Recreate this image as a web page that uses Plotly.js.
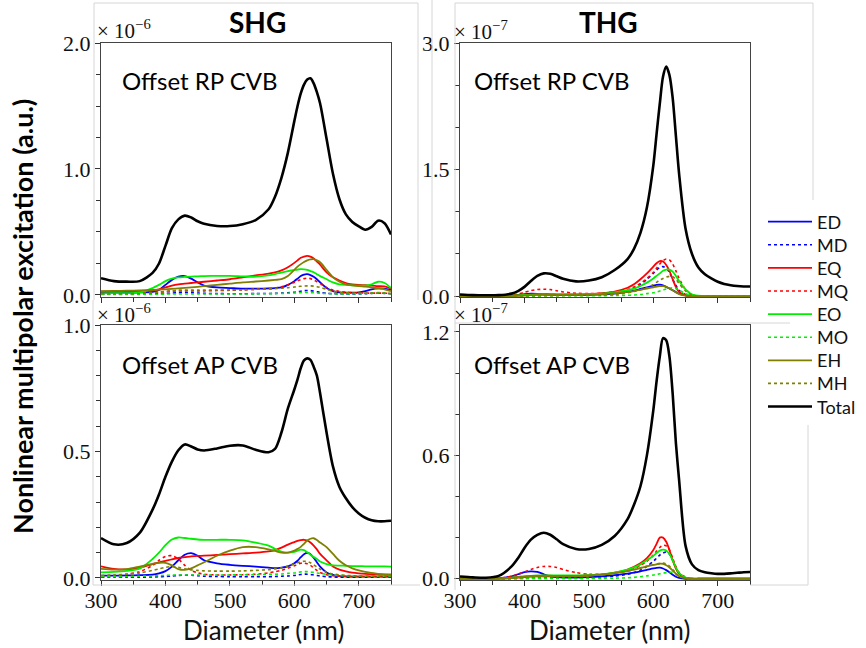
<!DOCTYPE html>
<html><head><meta charset="utf-8">
<script src="https://cdn.plot.ly/plotly-3.0.1.min.js"></script>
<style>html,body{margin:0;padding:0;background:#fff}#chart{width:866px;height:648px}</style>
</head><body><div id="chart"></div>
<script>
// Diameter grid (nm)
const diameter = [300,320,340,360,380,390,400,410,420,430,440,450,460,480,500,520,540,560,570,580,590,600,605,610,615,620,625,630,635,640,650,660,670,680,690,700,710,720,730,740,750];

const seriesNames = ['ED','MD','EQ','MQ','EO','MO','EH','MH','Total'];

// SHG, offset RP CVB (x 1e-6)
const shgRP_ED = [0.02,0.02,0.02,0.02,0.025,0.04,0.08,0.12,0.145,0.15,0.13,0.1,0.075,0.06,0.055,0.05,0.05,0.052,0.055,0.06,0.08,0.11,0.13,0.15,0.162,0.165,0.158,0.145,0.125,0.1,0.055,0.03,0.02,0.018,0.018,0.02,0.03,0.045,0.052,0.05,0.04];
const shgRP_MD = [0.006,0.006,0.006,0.006,0.008,0.01,0.012,0.015,0.018,0.02,0.019,0.016,0.013,0.011,0.01,0.01,0.011,0.012,0.013,0.015,0.018,0.022,0.026,0.03,0.034,0.036,0.035,0.031,0.026,0.021,0.014,0.01,0.008,0.007,0.007,0.008,0.01,0.013,0.015,0.013,0.01];
const shgRP_EQ = [0.027,0.028,0.03,0.032,0.035,0.045,0.06,0.075,0.085,0.09,0.095,0.1,0.105,0.115,0.125,0.14,0.155,0.17,0.18,0.195,0.22,0.255,0.275,0.295,0.305,0.31,0.305,0.29,0.265,0.24,0.18,0.14,0.115,0.095,0.085,0.08,0.078,0.075,0.07,0.068,0.05];
const shgRP_MQ = [0.012,0.012,0.012,0.013,0.018,0.022,0.027,0.03,0.032,0.033,0.033,0.033,0.033,0.035,0.037,0.04,0.045,0.05,0.055,0.065,0.08,0.1,0.112,0.122,0.13,0.133,0.13,0.12,0.105,0.09,0.06,0.04,0.028,0.022,0.018,0.016,0.015,0.015,0.015,0.014,0.012];
const shgRP_EO = [0.013,0.014,0.015,0.02,0.055,0.08,0.11,0.13,0.14,0.143,0.146,0.148,0.15,0.152,0.152,0.148,0.145,0.155,0.165,0.178,0.19,0.198,0.202,0.205,0.204,0.2,0.19,0.18,0.165,0.15,0.125,0.1,0.085,0.08,0.077,0.075,0.075,0.085,0.105,0.095,0.055];
const shgRP_MO = [0.005,0.005,0.005,0.005,0.006,0.006,0.007,0.008,0.008,0.008,0.008,0.008,0.008,0.008,0.008,0.008,0.009,0.01,0.011,0.012,0.014,0.016,0.018,0.019,0.02,0.02,0.019,0.018,0.016,0.014,0.011,0.009,0.008,0.008,0.009,0.01,0.012,0.016,0.02,0.016,0.01];
const shgRP_EH = [0.03,0.032,0.034,0.036,0.04,0.042,0.045,0.048,0.052,0.056,0.06,0.065,0.07,0.08,0.09,0.1,0.107,0.115,0.12,0.125,0.15,0.2,0.225,0.245,0.262,0.275,0.283,0.285,0.275,0.26,0.2,0.14,0.105,0.085,0.077,0.07,0.066,0.06,0.052,0.045,0.03];
const shgRP_MH = [0.01,0.01,0.01,0.012,0.018,0.022,0.028,0.033,0.038,0.04,0.04,0.04,0.04,0.04,0.04,0.042,0.045,0.048,0.05,0.053,0.058,0.063,0.066,0.069,0.071,0.072,0.072,0.07,0.066,0.06,0.045,0.03,0.022,0.018,0.016,0.015,0.015,0.015,0.015,0.014,0.012];
const shgRP_Total = [0.133,0.11,0.106,0.11,0.175,0.25,0.39,0.53,0.6,0.63,0.615,0.585,0.565,0.548,0.547,0.562,0.595,0.68,0.78,0.93,1.13,1.38,1.5,1.6,1.67,1.71,1.72,1.68,1.61,1.52,1.24,0.96,0.76,0.64,0.58,0.545,0.518,0.54,0.59,0.57,0.48];

// THG, offset RP CVB (x 1e-7)
const thgRP_ED = [0,0,0,0,0.005,0.015,0.025,0.03,0.028,0.02,0.015,0.013,0.012,0.012,0.015,0.02,0.03,0.05,0.065,0.085,0.105,0.125,0.133,0.135,0.128,0.11,0.09,0.07,0.05,0.03,0.01,0.002,0,0,0,0,0,0,0,0,0];
const thgRP_MD = [0,0,0,0,0.002,0.004,0.006,0.008,0.01,0.01,0.01,0.01,0.01,0.012,0.015,0.02,0.04,0.07,0.1,0.14,0.2,0.27,0.31,0.34,0.35,0.33,0.28,0.2,0.13,0.07,0.02,0.005,0,0,0,0,0,0,0,0,0];
const thgRP_EQ = [0,0,0,0,0.003,0.006,0.01,0.015,0.02,0.025,0.025,0.022,0.02,0.02,0.025,0.035,0.055,0.1,0.14,0.2,0.27,0.35,0.39,0.415,0.41,0.37,0.3,0.2,0.11,0.05,0.01,0,0,0,0,0,0,0,0,0,0];
const thgRP_MQ = [0,0,0,0,0.01,0.025,0.045,0.065,0.078,0.082,0.078,0.065,0.05,0.035,0.03,0.035,0.05,0.08,0.11,0.15,0.21,0.28,0.33,0.38,0.42,0.44,0.43,0.38,0.3,0.21,0.08,0.02,0,0,0,0,0,0,0,0,0];
const thgRP_EO = [0,0,0,0,0.005,0.01,0.015,0.018,0.02,0.02,0.02,0.02,0.02,0.02,0.025,0.03,0.045,0.07,0.09,0.12,0.16,0.21,0.24,0.27,0.3,0.315,0.315,0.29,0.24,0.18,0.08,0.02,0.005,0,0,0,0,0,0,0,0];
const thgRP_MO = [0,0,0,0,0,0,0,0.002,0.003,0.004,0.004,0.004,0.004,0.004,0.005,0.006,0.008,0.01,0.014,0.02,0.03,0.04,0.05,0.06,0.072,0.085,0.095,0.1,0.09,0.07,0.03,0.005,0,0,0,0,0,0,0,0,0];
const thgRP_EH = [0,0,0,0,0.005,0.008,0.01,0.012,0.015,0.015,0.015,0.015,0.015,0.015,0.02,0.025,0.035,0.05,0.06,0.075,0.09,0.105,0.113,0.118,0.118,0.11,0.09,0.07,0.045,0.025,0.005,0,0,0,0,0,0,0,0,0,0];
const thgRP_MH = [0,0,0,0,0,0.002,0.004,0.005,0.006,0.006,0.006,0.006,0.007,0.008,0.01,0.013,0.02,0.04,0.055,0.075,0.1,0.14,0.165,0.19,0.21,0.225,0.235,0.23,0.2,0.15,0.06,0.015,0,0,0,0,0,0,0,0,0];
const thgRP_Total = [0.02,0.012,0.01,0.012,0.03,0.06,0.11,0.18,0.24,0.27,0.265,0.235,0.205,0.175,0.185,0.225,0.31,0.44,0.56,0.75,1.05,1.55,1.92,2.28,2.6,2.72,2.62,2.35,1.9,1.45,0.8,0.5,0.34,0.26,0.21,0.17,0.145,0.13,0.12,0.115,0.115];

// SHG, offset AP CVB (x 1e-6)
const shgAP_ED = [0.009,0.009,0.01,0.011,0.013,0.018,0.027,0.045,0.07,0.092,0.098,0.088,0.07,0.058,0.052,0.048,0.045,0.041,0.039,0.041,0.046,0.058,0.068,0.082,0.094,0.099,0.094,0.08,0.062,0.045,0.022,0.012,0.007,0.006,0.005,0.005,0.005,0.005,0.005,0.005,0.005];
const shgAP_MD = [0.003,0.003,0.003,0.003,0.004,0.005,0.006,0.008,0.01,0.011,0.011,0.009,0.007,0.006,0.005,0.005,0.005,0.005,0.006,0.007,0.008,0.01,0.012,0.014,0.015,0.015,0.014,0.012,0.01,0.008,0.005,0.004,0.003,0.003,0.003,0.003,0.003,0.003,0.003,0.003,0.003];
const shgAP_EQ = [0.046,0.036,0.034,0.04,0.055,0.062,0.068,0.074,0.079,0.082,0.085,0.087,0.088,0.091,0.094,0.097,0.1,0.105,0.11,0.12,0.132,0.142,0.147,0.15,0.151,0.148,0.14,0.128,0.113,0.095,0.07,0.045,0.033,0.026,0.021,0.018,0.016,0.015,0.014,0.013,0.013];
const shgAP_MQ = [0.008,0.01,0.015,0.025,0.05,0.07,0.085,0.088,0.075,0.05,0.03,0.02,0.015,0.012,0.012,0.013,0.015,0.02,0.025,0.03,0.038,0.048,0.054,0.058,0.059,0.056,0.05,0.04,0.03,0.022,0.013,0.009,0.007,0.006,0.006,0.006,0.006,0.006,0.006,0.006,0.006];
const shgAP_EO = [0.022,0.024,0.028,0.037,0.075,0.1,0.13,0.152,0.16,0.158,0.155,0.152,0.151,0.151,0.151,0.149,0.14,0.128,0.115,0.104,0.1,0.103,0.108,0.112,0.11,0.102,0.092,0.083,0.075,0.065,0.055,0.05,0.049,0.048,0.047,0.047,0.046,0.046,0.046,0.046,0.045];
const shgAP_MO = [0.005,0.005,0.006,0.007,0.008,0.009,0.01,0.011,0.012,0.012,0.012,0.012,0.012,0.012,0.012,0.013,0.013,0.014,0.015,0.016,0.018,0.02,0.022,0.024,0.025,0.025,0.024,0.022,0.02,0.018,0.014,0.012,0.01,0.009,0.008,0.008,0.007,0.007,0.006,0.006,0.006];
const shgAP_EH = [0.036,0.033,0.035,0.045,0.056,0.06,0.06,0.05,0.035,0.032,0.038,0.05,0.062,0.088,0.108,0.122,0.122,0.113,0.107,0.1,0.1,0.108,0.115,0.123,0.135,0.148,0.155,0.157,0.15,0.14,0.122,0.095,0.068,0.05,0.038,0.03,0.024,0.02,0.016,0.014,0.013];
const shgAP_MH = [0.01,0.012,0.015,0.02,0.03,0.036,0.042,0.045,0.042,0.036,0.032,0.03,0.028,0.027,0.027,0.028,0.03,0.033,0.036,0.04,0.047,0.055,0.06,0.064,0.066,0.065,0.06,0.052,0.043,0.035,0.023,0.016,0.012,0.01,0.009,0.008,0.008,0.008,0.008,0.008,0.008];
const shgAP_Total = [0.158,0.133,0.138,0.178,0.27,0.33,0.4,0.46,0.505,0.528,0.52,0.508,0.504,0.512,0.523,0.524,0.507,0.497,0.51,0.575,0.67,0.745,0.785,0.83,0.86,0.868,0.862,0.835,0.8,0.73,0.575,0.44,0.36,0.315,0.28,0.255,0.238,0.228,0.224,0.224,0.226];

// THG, offset AP CVB (x 1e-7)
const thgAP_ED = [0,0,0,0.002,0.012,0.022,0.032,0.036,0.033,0.022,0.012,0.008,0.006,0.006,0.008,0.012,0.018,0.025,0.03,0.036,0.043,0.05,0.053,0.054,0.05,0.042,0.032,0.02,0.01,0.004,0,0,0,0,0,0,0,0,0,0,0];
const thgAP_MD = [0,0,0,0,0.001,0.002,0.003,0.003,0.003,0.003,0.003,0.003,0.003,0.004,0.005,0.008,0.013,0.022,0.03,0.042,0.06,0.085,0.1,0.115,0.125,0.13,0.12,0.09,0.055,0.025,0.005,0,0,0,0,0,0,0,0,0,0];
const thgAP_EQ = [0,0,0,0,0.003,0.006,0.008,0.01,0.012,0.012,0.012,0.012,0.012,0.013,0.016,0.02,0.03,0.045,0.058,0.075,0.1,0.14,0.17,0.2,0.2,0.18,0.14,0.09,0.05,0.025,0.005,0,0,0,0,0,0,0,0,0,0];
const thgAP_MQ = [0,0,0,0.003,0.012,0.022,0.033,0.045,0.055,0.06,0.06,0.055,0.045,0.03,0.022,0.022,0.028,0.04,0.05,0.065,0.085,0.115,0.135,0.152,0.163,0.16,0.14,0.1,0.06,0.03,0.008,0,0,0,0,0,0,0,0,0,0];
const thgAP_EO = [0,0,0,0,0.005,0.008,0.012,0.014,0.015,0.016,0.016,0.016,0.016,0.016,0.018,0.022,0.03,0.045,0.055,0.07,0.09,0.112,0.125,0.137,0.142,0.138,0.12,0.09,0.055,0.028,0.006,0,0,0,0,0,0,0,0,0,0];
const thgAP_MO = [0,0,0,0,0,0,0,0.001,0.001,0.001,0.001,0.001,0.001,0.001,0.002,0.002,0.003,0.005,0.007,0.01,0.014,0.018,0.021,0.024,0.027,0.03,0.033,0.03,0.022,0.012,0.003,0,0,0,0,0,0,0,0,0,0];
const thgAP_EH = [0,0,0,0,0.006,0.009,0.012,0.014,0.015,0.015,0.015,0.014,0.014,0.014,0.016,0.02,0.027,0.037,0.044,0.052,0.06,0.067,0.07,0.073,0.072,0.066,0.055,0.04,0.025,0.012,0.003,0,0,0,0,0,0,0,0,0,0];
const thgAP_MH = [0,0,0,0,0.002,0.004,0.005,0.007,0.008,0.009,0.01,0.01,0.01,0.012,0.015,0.02,0.027,0.037,0.045,0.053,0.061,0.068,0.072,0.075,0.076,0.072,0.062,0.045,0.028,0.014,0.003,0,0,0,0,0,0,0,0,0,0];
const thgAP_Total = [0.011,0.007,0.005,0.014,0.06,0.1,0.15,0.19,0.213,0.224,0.214,0.192,0.168,0.145,0.145,0.165,0.208,0.29,0.36,0.45,0.6,0.82,0.96,1.08,1.17,1.16,1.08,0.9,0.66,0.48,0.16,0.07,0.042,0.032,0.027,0.024,0.024,0.026,0.029,0.032,0.033];

// ---------- styling ----------
const lineStyle = {
  ED:{color:'#0000ff',dash:'solid',width:1.8}, MD:{color:'#0000ff',dash:'dot',width:1.6},
  EQ:{color:'#ff0000',dash:'solid',width:1.8}, MQ:{color:'#ff0000',dash:'dot',width:1.6},
  EO:{color:'#00f000',dash:'solid',width:1.8}, MO:{color:'#00f000',dash:'dot',width:1.6},
  EH:{color:'#808000',dash:'solid',width:1.8}, MH:{color:'#808000',dash:'dot',width:1.6},
  Total:{color:'#000000',dash:'solid',width:2.6}
};

const panels = [
  {xa:'x', ya:'y',  data:[shgRP_ED,shgRP_MD,shgRP_EQ,shgRP_MQ,shgRP_EO,shgRP_MO,shgRP_EH,shgRP_MH,shgRP_Total], legend:true},
  {xa:'x2',ya:'y2', data:[thgRP_ED,thgRP_MD,thgRP_EQ,thgRP_MQ,thgRP_EO,thgRP_MO,thgRP_EH,thgRP_MH,thgRP_Total], legend:false},
  {xa:'x3',ya:'y3', data:[shgAP_ED,shgAP_MD,shgAP_EQ,shgAP_MQ,shgAP_EO,shgAP_MO,shgAP_EH,shgAP_MH,shgAP_Total], legend:false},
  {xa:'x4',ya:'y4', data:[thgAP_ED,thgAP_MD,thgAP_EQ,thgAP_MQ,thgAP_EO,thgAP_MO,thgAP_EH,thgAP_MH,thgAP_Total], legend:false}
];

const legendId = i => (i === 0 ? 'legend' : 'legend' + (i + 1));

const traces = [];
panels.forEach(p => {
  seriesNames.forEach((name, i) => {
    const st = lineStyle[name];
    traces.push({
      type:'scatter', mode:'lines', x:diameter, y:p.data[i], name:name,
      xaxis:p.xa, yaxis:p.ya, showlegend:p.legend, legend:legendId(i),
      line:{color:st.color, dash:st.dash, width:st.width, shape:'spline', smoothing:0.8},
      hoverinfo:'skip'
    });
  });
});

const W = 866, H = 648;
const px = v => v / W;
const py = v => 1 - v / H;

const serifFam = 'Liberation Serif, DejaVu Serif, serif';
const serif = {family:serifFam, size:22, color:'#111'};
const sans = 'Lato, Open Sans, sans-serif';

function xAxis(dom, anchor, labels) {
  return {
    domain:dom, anchor:anchor, range:[300,750],
    tickmode:'array', tickvals:[300,400,500,600,700], ticktext:['300','400','500','600','700'],
    showticklabels:labels, ticks:'outside', ticklen:5, tickwidth:1, tickcolor:'#333',
    ticklabelstandoff:-4,
    minor:{tickmode:'linear', tick0:300, dtick:50, ticks:'outside', ticklen:4, tickcolor:'#333'},
    showline:true, linecolor:'#444', linewidth:1, mirror:true,
    showgrid:false, zeroline:false, tickfont:serif, fixedrange:true
  };
}
function yAxis(dom, anchor, range, major, minorStep) {
  return {
    domain:dom, anchor:anchor, range:range,
    tickmode:'array', tickvals:major, ticktext:major.map(v => v.toFixed(1)),
    ticks:'outside', ticklen:5, tickwidth:1, tickcolor:'#333',
    minor:{tickmode:'linear', tick0:0, dtick:minorStep, ticks:'outside', ticklen:4, tickcolor:'#333'},
    showline:true, linecolor:'#444', linewidth:1, mirror:true,
    showgrid:false, zeroline:false, tickfont:serif, fixedrange:true
  };
}

const xL = [px(101), px(391)], xR = [px(460), px(750)];
const yT = [py(297), py(43)], yB = [py(580), py(325)];

function note(text, x, y, xanchor, font, extra) {
  return Object.assign({text:text, x:px(x), y:py(y), xref:'paper', yref:'paper',
    xanchor:xanchor, yanchor:'middle', showarrow:false, font:font}, extra || {});
}
const offsetFont = {family:serifFam, size:21, color:'#111'};
const panelFont = {family:sans, size:24, color:'#000'};

const layout = {
  width:W, height:H, margin:{l:0,r:0,t:0,b:0},
  paper_bgcolor:'#ffffff', plot_bgcolor:'#ffffff',
  showlegend:true,
  xaxis: xAxis(xL, 'y', false),
  yaxis: yAxis(yT, 'x', [-0.016, 2.0], [0,1,2], 0.25),
  xaxis2: xAxis(xR, 'y2', false),
  yaxis2: yAxis(yT, 'x2', [-0.01, 3.0], [0,1.5,3], 0.5),
  xaxis3: xAxis(xL, 'y3', true),
  yaxis3: yAxis(yB, 'x3', [-0.008, 1.0], [0,0.5,1], 0.1),
  xaxis4: xAxis(xR, 'y4', true),
  yaxis4: yAxis(yB, 'x4', [-0.006, 1.234], [0,0.6,1.2], 0.2),
  annotations:[
    note('<b>SHG</b>', 257, 22, 'center', {family:sans, size:28, color:'#000'}),
    note('<b>THG</b>', 608, 22, 'center', {family:sans, size:28, color:'#000'}),
    note('× 10<sup>−6</sup>', 95, 30, 'left', offsetFont),
    note('× 10<sup>−7</sup>', 452, 31, 'left', offsetFont),
    note('× 10<sup>−6</sup>', 95, 313, 'left', offsetFont),
    note('× 10<sup>−7</sup>', 452, 314, 'left', offsetFont),
    note('Offset RP CVB', 120, 80, 'left', panelFont),
    note('Offset RP CVB', 472, 80, 'left', panelFont),
    note('Offset AP CVB', 120, 365, 'left', panelFont),
    note('Offset AP CVB', 472, 364, 'left', panelFont),
    note('Diameter (nm)', 263, 630, 'center', {family:sans, size:26, color:'#111'}),
    note('Diameter (nm)', 609, 630, 'center', {family:sans, size:26, color:'#111'}),
    note('<b>Nonlinear multipolar excitation (a.u.)</b>', 22, 317, 'center', {family:sans, size:27, color:'#000'}, {textangle:-90})
  ],
  shapes:[
    {type:'line', xref:'paper', yref:'paper', x0:px(94), x1:px(94), y0:py(3), y1:py(300), line:{color:'#d6d6d6', width:1}},
    {type:'line', xref:'paper', yref:'paper', x0:px(94), x1:px(418), y0:py(3), y1:py(3), line:{color:'#d6d6d6', width:1}},
    {type:'line', xref:'paper', yref:'paper', x0:px(418), x1:px(418), y0:py(3), y1:py(300), line:{color:'#d6d6d6', width:1}},
    {type:'line', xref:'paper', yref:'paper', x0:px(432), x1:px(432), y0:py(0), y1:py(300), line:{color:'#d6d6d6', width:1}},
    {type:'line', xref:'paper', yref:'paper', x0:px(455), x1:px(455), y0:py(3), y1:py(590), line:{color:'#d6d6d6', width:1}},
    {type:'line', xref:'paper', yref:'paper', x0:px(455), x1:px(813), y0:py(3), y1:py(3), line:{color:'#d6d6d6', width:1}},
    {type:'line', xref:'paper', yref:'paper', x0:px(813), x1:px(813), y0:py(3), y1:py(200), line:{color:'#d6d6d6', width:1}},
    {type:'line', xref:'paper', yref:'paper', x0:px(455), x1:px(790), y0:py(323), y1:py(323), line:{color:'#d6d6d6', width:1}},
    {type:'line', xref:'paper', yref:'paper', x0:px(93), x1:px(93), y0:py(300), y1:py(585), line:{color:'#d6d6d6', width:1}},
    {type:'line', xref:'paper', yref:'paper', x0:px(93), x1:px(420), y0:py(585), y1:py(585), line:{color:'#d6d6d6', width:1}},
    {type:'line', xref:'paper', yref:'paper', x0:px(808), x1:px(808), y0:py(425), y1:py(585), line:{color:'#d6d6d6', width:1}},
    {type:'line', xref:'paper', yref:'paper', x0:px(750), x1:px(808), y0:py(585), y1:py(585), line:{color:'#d6d6d6', width:1}}
  ]
};

// one single-entry legend per series, stacked at the reference spacing
seriesNames.forEach((name, i) => {
  layout[legendId(i)] = {
    x:px(763), y:py(222 + i * 23.1), xanchor:'left', yanchor:'middle',
    bgcolor:'rgba(0,0,0,0)', borderwidth:0,
    font:{family:sans, size:18, color:'#111'}, itemwidth:44
  };
});

Plotly.newPlot('chart', traces, layout, {staticPlot:true, displayModeBar:false});
</script>
</body></html>
